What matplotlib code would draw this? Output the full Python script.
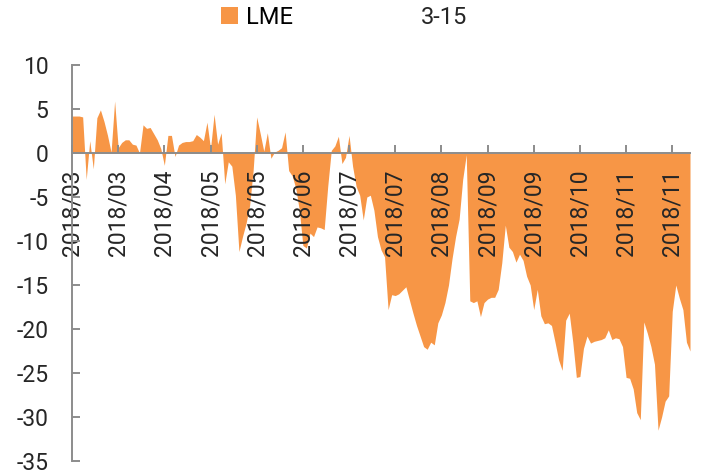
import numpy as np
import matplotlib
matplotlib.use("Agg")
import matplotlib.pyplot as plt

# LME 3-15 (un punto por día hábil)
valores = [
    4.2, 4.2, 4.2, 4.1, -3.0, 1.4, -1.8, 4.0, 4.9, 3.6,
    2.0, 0.1, 5.9, 0.6, 1.2, 1.5, 1.5, 1.0, 0.9, 0.0,
    3.2, 2.8, 2.9, 2.2, 1.5, 0.5, -1.4, 2.0, 2.0, -0.4,
    0.9, 1.2, 1.3, 1.3, 1.4, 2.1, 1.8, 1.4, 3.5, 0.5,
    4.4, 1.0, 2.3, -3.5, -1.0, -1.5, -4.8, -11.2, -9.5, -8.0,
    -6.0, -2.0, 4.1, 2.2, 0.2, 2.3, -0.6, 0.1, 0.3, 0.6,
    2.4, -2.0, -2.6, -4.0, -6.5, -10.5, -10.8, -9.1, -9.5, -8.4,
    -8.5, -8.7, -3.8, 0.3, 0.8, 1.9, -1.2, -0.5, 2.0, -1.5,
    -3.8, -4.8, -7.6, -5.0, -4.8, -6.5, -9.5, -11.0, -11.8, -17.8,
    -16.1, -16.2, -16.0, -15.6, -15.2, -16.7, -18.2, -19.6, -20.8, -22.0,
    -22.3, -21.5, -21.8, -19.3, -18.4, -17.0, -15.0, -12.0, -9.5, -7.5,
    -3.0, -0.2, -16.8, -17.0, -16.8, -18.6, -17.0, -16.6, -16.4, -16.4,
    -15.5, -12.5, -8.2, -10.7, -11.2, -12.4, -11.5, -12.2, -14.0, -15.0,
    -17.8, -15.5, -18.5, -19.4, -19.3, -19.6, -21.5, -23.5, -24.7, -19.0,
    -18.2, -21.5, -25.5, -25.4, -22.2, -20.8, -21.6, -21.4, -21.3, -21.2,
    -21.0, -20.1, -21.2, -21.0, -21.1, -22.0, -25.5, -25.6, -26.8, -29.5,
    -30.3, -19.2, -20.5, -22.0, -24.0, -31.5, -30.0, -28.2, -27.6, -18.0,
    -15.0, -16.5, -17.8, -21.5, -22.5,
]

paso_etiqueta = 13
etiquetas = [
    "2018/03", "2018/03", "2018/04", "2018/05", "2018/05", "2018/06", "2018/07",
    "2018/07", "2018/08", "2018/09", "2018/09", "2018/10", "2018/11", "2018/11",
]

naranjo = "#F79646"
gris = "#8C8C8C"
texto = "#262626"

plt.rcParams["font.family"] = ["Roboto", "DejaVu Sans"]
plt.rcParams["font.weight"] = "normal"
plt.rcParams["axes.unicode_minus"] = False

fig = plt.figure(figsize=(7.03, 4.75), dpi=100)
ax = fig.add_axes([72 / 703, 14 / 475, 618 / 703, 396 / 475])

x = np.arange(len(valores))
ax.fill_between(x, valores, 0, color=naranjo, linewidth=0, label="LME")

ax.set_xlim(0, len(valores) - 1)
ax.set_ylim(-35, 10)
ax.set_yticks(range(-35, 11, 5))

posiciones = list(range(0, len(valores), paso_etiqueta))
ax.set_xticks(posiciones)
ax.set_xticklabels(etiquetas)

ax.spines["top"].set_visible(False)
ax.spines["right"].set_visible(False)
ax.spines["bottom"].set_position(("data", 0))
for lado in ["left", "bottom"]:
    ax.spines[lado].set_color(gris)
    ax.spines[lado].set_linewidth(1.4)

ax.tick_params(axis="x", direction="in", length=6, width=1.4, color=gris,
               pad=12, labelsize=16.5, labelcolor=texto, labelrotation=90)
ax.tick_params(axis="y", direction="in", length=6, width=1.4, color=gris,
               pad=17, labelsize=16.5, labelcolor=texto)
for et in ax.get_xticklabels():
    et.set_va("top")
    et.set_ha("center")

fig.legend(loc="center left", bbox_to_anchor=(221 / 703, 1 - 17.5 / 475),
           frameon=False, fontsize=17, handlelength=0.7, handleheight=0.7,
           handletextpad=0.35, borderpad=0, borderaxespad=0)
fig.text(421 / 703, 1 - 17.5 / 475, "3-15", fontsize=17, color=texto,
         va="center", ha="left")

fig.savefig("out.png", dpi=100)
